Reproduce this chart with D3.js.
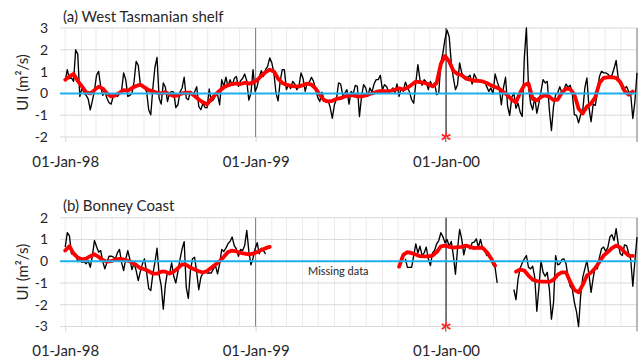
<!DOCTYPE html>
<html lang="en">
<head>
<meta charset="utf-8">
<title>Upwelling index</title>
<script src="https://cdn.jsdelivr.net/npm/d3@7"></script>
<style>
  html, body { margin: 0; padding: 0; background: #fff; }
  svg text { font-family: Lato, "Open Sans", sans-serif; fill: #262626; }
  .axis path { display: none; }
  .xaxis line { stroke: #d9d9d9; }
  .daily { fill: none; stroke: #000; stroke-width: 1.35; stroke-linejoin: round; }
  .mean { fill: none; stroke: #ff0000; stroke-width: 3.8; stroke-linejoin: round; stroke-linecap: round; }
  .zero { stroke: #1cb0ec; stroke-width: 2; }
</style>
</head>
<body>
<div id="chart"></div>
<script>
// daily UI every 4 days, running mean every 8 days
var dailyStep = 4, meanStep = 8;

// (a) West Tasmanian shelf
var tasStart = "1998-01-01";
var tasUI = [
  0.58, 1.09, 0.68, 0.71, 0.55, 2.0, 1.8, -0.14, 0.22, 0.06,
  -0.09, -0.25, -0.75, -0.34, 0.12, 0.83, 1.01, 0.32, -0.09, 0.08,
  -0.22, -0.43, -0.49, -0.14, -0.09, -0.14, -0.03, 0.12, 0.94, 0.63,
  -0.14, -0.09, 0.02, 0.55, 1.47, 1.29, 0.4, 0.32, 0.25, 0.09,
  -0.75, -0.98, 0.25, 1.2, 1.65, -0.22, -0.49, 0.48, 0.28, -0.37,
  0.02, 0.09, 0.06, -0.65, -0.52, 0.06, 0.25, 0.74, -0.22, -0.29,
  0.09, -0.09, 0.06, 0.31, -0.6, -0.75, -0.45, -0.65, -0.65, 0.2,
  -0.37, -0.29, -0.09, -0.06, -0.52, 0.63, 0.32, 0.74, 0.32, 0.63,
  0.37, 0.68, 0.78, 0.32, 0.58, 0.68, 0.89, 0.58, -0.31, 0.02,
  1.09, 0.09, 0.32, 0.78, 1.04, 0.78, 1.09, 1.24, 1.63, 1.4,
  0.94, 0.02, -0.34, 0.55, 1.09, 1.09, 0.17, 0.4, 0.22, 0.55,
  0.43, 0.17, 0.32, 0.94, 0.68, 0.09, 0.48, 0.52, 0.74, 0.55,
  0.17, -0.18, -0.37, 0.06, -0.29, -0.4, -0.34, -0.65, -1.14, -0.52,
  -0.25, 0.48, 0.43, -0.09, 0.02, 0.17, -0.49, 0.09, -0.03, 0.37,
  0.32, -1.06, -0.14, 0.4, 0.25, -0.14, 0.25, 0.06, 0.43, 0.63,
  0.63, 0.83, 0.17, 0.4, 0.32, 0.06, 0.09, 0.25, 0.02, 0.43,
  -0.14, 0.25, 0.09, 0.52, 0.28, 0.06, -0.29, -0.45, 0.48, 1.32,
  0.63, 0.37, 0.63, 0.52, 0.17, 0.55, 0.32, 0.48, -0.06, 0.02,
  1.4, 1.86, 2.5, 2.9, 2.6, 1.4, 0.71, 0.17, 0.4, 1.4,
  0.94, 0.78, 0.74, 0.74, 0.83, 0.43, 0.89, 0.68, 0.55, 0.58,
  0.52, 0.55, 0.31, 0.09, 0.25, -0.03, 0.89, 0.55, 0.25, -0.52,
  0.25, 0.74, -0.6, -1.01, -0.18, 0.02, -0.68, -0.45, -0.86, -1.06,
  1.63, 3.0, 0.32, -0.45, -0.75, -0.18, -0.91, -0.45, 0.09, 0.63,
  0.48, 0.55, -0.75, -1.7, -0.6, -0.06, 0.02, 0.31, 0.02, 0.17,
  0.43, 0.28, 0.37, -0.03, -0.98, -1.01, -1.35, -0.98, -0.8, 0.25,
  0.71, -0.68, -1.3, -0.49, -0.55, 0.02, 0.78, 1.01, 0.94, 0.94,
  0.89, 0.78, 0.83, 1.14, 1.51, 0.71, 0.52, 0.17, 0.22, 0.32,
  0.09, -0.06, -1.15, -0.37, 0.94
];
var tasMean = [
  0.63, 0.78, 0.89, 0.58, 0.32, 0.05, 0.0, 0.15, 0.31, 0.22,
  0.0, -0.14, -0.09, 0.03, 0.15, 0.12, 0.25, 0.34, 0.4, 0.28,
  0.15, 0.09, 0.03, 0.0, 0.06, -0.05, -0.12, -0.09, 0.0, 0.03,
  0.03, -0.12, -0.28, -0.41, -0.5, -0.25, -0.05, 0.12, 0.28, 0.37,
  0.43, 0.46, 0.43, 0.49, 0.45, 0.49, 0.61, 0.81, 0.97, 1.09,
  1.01, 0.68, 0.48, 0.4, 0.35, 0.32, 0.32, 0.38, 0.45, 0.4,
  0.22, -0.06, -0.31, -0.37, -0.34, -0.25, -0.22, -0.14, -0.09, -0.09,
  -0.14, -0.14, -0.09, -0.03, 0.03, 0.09, 0.11, 0.09, 0.12, 0.17,
  0.23, 0.18, 0.26, 0.4, 0.54, 0.52, 0.48, 0.43, 0.32, 0.48,
  1.35, 1.72, 1.47, 1.04, 0.89, 0.83, 0.68, 0.63, 0.58, 0.58,
  0.55, 0.48, 0.37, 0.29, 0.22, 0.06, -0.09, -0.29, -0.41, 0.03,
  0.38, 0.46, -0.25, -0.32, -0.17, -0.09, -0.15, -0.31, -0.28, 0.03,
  0.22, 0.2, -0.06, -0.7, -0.92, -0.6, -0.46, -0.18, 0.48, 0.71,
  0.74, 0.74, 0.71, 0.52, 0.12, -0.06, 0.09
];

// (b) Bonney Coast, three pieces around the missing data
var bonStarts = ["1998-01-01", "1999-10-15", "2000-05-10"];
var bonUI1 = [
  0.65, 1.31, 1.18, 0.34, 0.42, 0.34, -0.02, 0.03, -0.05, -0.02,
  -0.12, 0.03, -0.28, 0.23, 0.95, 0.68, 0.42, 0.49, -0.02, -0.35,
  -0.05, 0.23, 0.23, 0.2, 0.11, 0.38, 0.54, -0.05, -0.43, 0.11,
  0.49, 0.08, -0.38, -0.08, -0.43, -0.89, -0.48, -0.12, 0.11, -0.51,
  -1.25, -1.35, -0.58, -0.05, 0.6, -0.63, -1.12, -2.2, -1.09, -0.48,
  -0.58, -0.08, -0.69, -1.0, -0.48, 0.08, 0.57, 0.9, -1.2, -1.71,
  -0.43, 0.11, 0.18, -0.51, -1.31, -0.74, -0.54, -0.45, -0.54, -0.54,
  -0.54, -0.35, -0.2, -0.58, -0.12, 0.54, 0.45, 0.6, 0.8, 0.91,
  1.11, 0.72, 0.57, 0.23, 0.54, 0.49, 0.72, 1.42, 0.45, -0.17,
  0.14, 0.57, 0.85, 0.34, 0.6, 0.49, 0.34
];
var bonUI2 = [
  0.11, -0.28, -0.28, -0.28, 0.26, 0.8, 0.38, 0.69, 0.26, 0.38,
  0.65, 0.11, -0.2, 0.38, 0.49, 0.8, 0.95, 1.31, 1.12, 0.85,
  1.0, 0.69, 0.91, 0.26, -0.6, 0.57, 1.46, 1.03, 0.29, 0.72,
  0.69, 0.57, 0.85, 0.88, 1.03, 0.65, 1.0, 0.6, 0.54, 0.26,
  0.38, 0.08, -0.17, -0.28, -1.0
];
var bonUI3 = [
  -1.3, -1.77, -0.82, -0.32, -0.08, 0.11, 0.26, -0.28, -0.35, -0.23,
  -0.74, -2.3, -1.2, 0.03, -0.51, -0.69, -0.51, -1.28, -2.66, -1.9,
  0.26, -0.17, -0.12, 0.08, 0.11, -0.12, -0.78, -1.15, -1.28, -1.89,
  -2.32, -3.0, -1.58, -0.74, -0.35, 0.03, -0.63, -1.43, -0.78, -0.23,
  -0.35, 0.18, 0.57, 0.65, 0.45, 0.63, 1.11, 1.22, 0.95, 1.5,
  0.8, 0.34, 0.26, 0.75, 0.72, 0.38, 0.08, -1.15, 0.03, 1.11
];
var bonMeanStarts = ["1998-01-01", "1999-10-03", "2000-05-14"];
var bonMean1 = [
  0.49, 0.69, 0.35, 0.17, 0.09, 0.12, 0.23, 0.32, 0.2, 0.06,
  -0.02, 0.0, 0.08, 0.11, 0.08, 0.02, -0.05, -0.17, -0.32, -0.37,
  -0.46, -0.57, -0.57, -0.48, -0.48, -0.57, -0.48, -0.32, -0.14, -0.17,
  -0.29, -0.38, -0.46, -0.52, -0.45, -0.3, -0.15, 0.0, 0.2, 0.42,
  0.49, 0.45, 0.38, 0.35, 0.31, 0.35, 0.42, 0.52, 0.6, 0.66
];
var bonMean2 = [
  -0.25, 0.29, 0.42, 0.37, 0.31, 0.23, 0.22, 0.22, 0.26, 0.42,
  0.68, 0.72, 0.66, 0.62, 0.65, 0.66, 0.72, 0.66, 0.6, 0.62,
  0.62, 0.42, 0.14, -0.2
];
var bonMean3 = [
  -0.48, -0.38, -0.43, -0.66, -0.85, -0.91, -0.94, -0.94, -0.95, -0.85,
  -0.62, -0.51, -0.51, -0.94, -1.32, -1.43, -1.09, -0.66, -0.52, -0.32,
  -0.02, 0.26, 0.42, 0.6, 0.72, 0.63, 0.43, 0.26, 0.25
];

var xDomain = ["1997-12-22", "2001-01-01"];
var yearTicks = ["1998-01-01", "1999-01-01", "2000-01-01"];
var tasTicks = [-2, -1, 0, 1, 2, 3];
var bonTicks = [-3, -2, -1, 0, 1, 2];
var eventDate = "2000-01-01";
var yLabel = "UI (m\u00B2/s)";

var w = 641, h = 359;
var parse = d3.timeParse("%Y-%m-%d");

var x = d3.scaleTime()
  .domain(xDomain.map(parse))
  .range([60, 637]);

var svg = d3.select("#chart").append("svg")
  .attr("width", w)
  .attr("height", h);

function series(start, step, vals) {
  var t0 = parse(start);
  return vals.map(function(v, i) {
    return {date: d3.timeDay.offset(t0, i * step), value: v};
  });
}

var panels = [
  {title: "(a) West Tasmanian shelf", top: 28, bottom: 137, titleY: 21.5, ticks: tasTicks,
   daily: [series(tasStart, dailyStep, tasUI)],
   mean: [series(tasStart, meanStep, tasMean)]},
  {title: "(b) Bonney Coast", top: 217.7, bottom: 326.5, titleY: 211, ticks: bonTicks,
   daily: [series(bonStarts[0], dailyStep, bonUI1), series(bonStarts[1], dailyStep, bonUI2),
           series(bonStarts[2], dailyStep, bonUI3)],
   mean: [series(bonMeanStarts[0], meanStep, bonMean1), series(bonMeanStarts[1], meanStep, bonMean2),
          series(bonMeanStarts[2], meanStep, bonMean3)],
   note: "Missing data"}
];

panels.forEach(function(p) {
  var y = d3.scaleLinear()
    .domain(d3.extent(p.ticks))
    .range([p.bottom, p.top]);
  var g = svg.append("g");
  var x0 = x.range()[0], x1 = x.range()[1];

  // monthly grid
  g.append("g").selectAll("line")
    .data(x.ticks(d3.timeMonth.every(1)))
    .join("line")
    .attr("x1", function(d) { return x(d); })
    .attr("x2", function(d) { return x(d); })
    .attr("y1", p.top)
    .attr("y2", p.bottom)
    .attr("stroke", "#ebebeb");

  // horizontal grid
  g.append("g").selectAll("line")
    .data(p.ticks)
    .join("line")
    .attr("x1", x0)
    .attr("x2", x1)
    .attr("y1", function(d) { return y(d); })
    .attr("y2", function(d) { return y(d); })
    .attr("stroke", "#d9d9d9");

  // year lines
  g.append("line")
    .attr("x1", x(parse("1999-01-01"))).attr("x2", x(parse("1999-01-01")))
    .attr("y1", p.top).attr("y2", p.bottom)
    .attr("stroke", "#7a7a7a");
  g.append("line")
    .attr("x1", x1).attr("x2", x1)
    .attr("y1", p.top).attr("y2", p.bottom + 5)
    .attr("stroke", "#7a7a7a");

  // event line + asterisk
  var ex = x(parse(eventDate)), ey = p.bottom;
  g.append("line")
    .attr("x1", ex).attr("x2", ex)
    .attr("y1", p.top).attr("y2", ey - 5)
    .attr("stroke", "#000");
  var r = 5;
  g.append("path")
    .attr("d", [90, 30, 150].map(function(a) {
      var dx = r * Math.cos(a * Math.PI / 180), dy = r * Math.sin(a * Math.PI / 180);
      return "M" + (ex - dx) + "," + (ey - dy) + "L" + (ex + dx) + "," + (ey + dy);
    }).join(""))
    .attr("stroke", "#ff2020")
    .attr("stroke-width", 1.8)
    .attr("fill", "none");

  // y axis labels
  g.append("g")
    .attr("class", "axis")
    .attr("transform", "translate(" + x0 + ",0)")
    .call(d3.axisLeft(y).tickValues(p.ticks).tickSize(0).tickPadding(12)
      .tickFormat(function(d) { return String(d); }))
    .selectAll("text")
    .style("font-size", "14px");

  // x axis labels
  g.append("g")
    .attr("class", "axis xaxis")
    .attr("transform", "translate(0," + p.bottom + ")")
    .call(d3.axisBottom(x).tickValues(yearTicks.map(parse)).tickSize(5).tickPadding(14)
      .tickFormat(d3.timeFormat("%d-%b-%y")))
    .selectAll("text")
    .style("font-size", "15px");

  // daily series
  var line = d3.line()
    .x(function(d) { return x(d.date); })
    .y(function(d) { return y(d.value); });
  g.append("g").selectAll("path")
    .data(p.daily)
    .join("path")
    .attr("class", "daily")
    .attr("d", line);

  // running mean
  g.append("g").selectAll("path")
    .data(p.mean)
    .join("path")
    .attr("class", "mean")
    .attr("d", line);

  // zero line
  g.append("line")
    .attr("class", "zero")
    .attr("x1", x0).attr("x2", x1)
    .attr("y1", y(0)).attr("y2", y(0));

  // titles
  g.append("text")
    .attr("x", 63)
    .attr("y", p.titleY)
    .style("font-size", "15px")
    .text(p.title);

  g.append("text")
    .attr("transform", "translate(28," + (p.top + p.bottom) / 2 + ") rotate(-90)")
    .attr("text-anchor", "middle")
    .style("font-size", "15px")
    .text(yLabel);

  if (p.note) {
    g.append("text")
      .attr("x", 308)
      .attr("y", y(0) + 14)
      .style("font-size", "11px")
      .text(p.note);
  }
});
</script>
</body>
</html>
